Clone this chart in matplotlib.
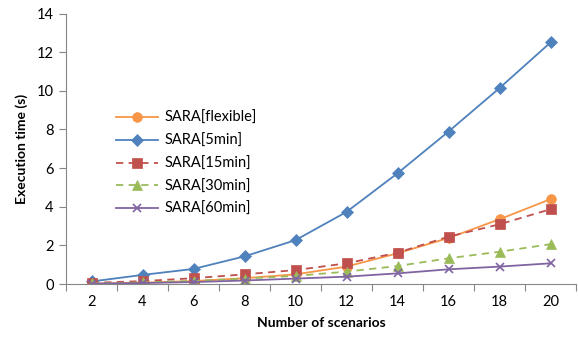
import matplotlib
matplotlib.use("Agg")
import matplotlib.pyplot as plt
import numpy as np

plt.rcParams['font.family'] = ['Lato', 'DejaVu Sans']

scenarios = [2, 4, 6, 8, 10, 12, 14, 16, 18, 20]
sara_flexible = [0.02, 0.07, 0.15, 0.30, 0.50, 0.90, 1.59, 2.38, 3.35, 4.39]
sara_5min = [0.13, 0.47, 0.78, 1.43, 2.27, 3.73, 5.73, 7.89, 10.14, 12.50]
sara_15min = [0.06, 0.15, 0.30, 0.50, 0.72, 1.07, 1.62, 2.45, 3.09, 3.87]
sara_30min = [0.03, 0.08, 0.16, 0.28, 0.42, 0.64, 0.93, 1.33, 1.67, 2.06]
sara_60min = [0.02, 0.05, 0.10, 0.18, 0.28, 0.38, 0.55, 0.76, 0.90, 1.07]

series = [
    ("SARA[flexible]", sara_flexible, "#F79646", "o", "-"),
    ("SARA[5min]", sara_5min, "#4F81BD", "D", "-"),
    ("SARA[15min]", sara_15min, "#C0504D", "s", (0, (4, 3))),
    ("SARA[30min]", sara_30min, "#9BBB59", "^", (0, (4, 3))),
    ("SARA[60min]", sara_60min, "#8064A2", "x", "-"),
]

fig = plt.figure(figsize=(5.78, 3.41), dpi=100)
ax = fig.add_axes([66/578, 1-284/341, 510/578, (284-13.5)/341])

x = np.arange(len(scenarios))
for label, vals, color, marker, ls in series:
    ms = 6 if marker in ("D", "x") else 7
    ax.plot(x, vals, color=color, marker=marker, linestyle=ls, linewidth=1.3,
            markersize=ms, markeredgewidth=1.2 if marker == "x" else 0.5,
            markeredgecolor=color, label=label)

ax.set_xlim(-0.5, len(scenarios) - 0.5)
ax.set_ylim(0, 14)
ax.set_yticks(np.arange(0, 15, 2))
ax.set_xticks(x)
ax.set_xticklabels([str(s) for s in scenarios])
ax.set_xticks(np.arange(-0.5, len(scenarios), 1), minor=True)
ax.tick_params(axis='x', which='major', length=0, pad=8, labelsize=10.5, colors='black')
ax.tick_params(axis='x', which='minor', length=5, width=0.8, color='#868686', direction='out')
ax.tick_params(axis='y', length=5, width=0.8, color='#868686', labelsize=10.5, pad=4)

for s in ['top', 'right']:
    ax.spines[s].set_visible(False)
for s in ['left', 'bottom']:
    ax.spines[s].set_color('#868686')
    ax.spines[s].set_linewidth(0.8)

ax.set_xlabel("Number of scenarios", fontsize=10, fontweight='bold', labelpad=6)
ax.set_ylabel("Execution time (s)", fontsize=10, fontweight='bold', labelpad=6)

leg = ax.legend(loc='upper left', bbox_to_anchor=(50/510, (284-111)/270.5),
                frameon=False, fontsize=10.5, handlelength=2.9, labelspacing=0.6,
                handletextpad=0.4, borderaxespad=0, borderpad=0)

fig.savefig("out.png", dpi=100)
